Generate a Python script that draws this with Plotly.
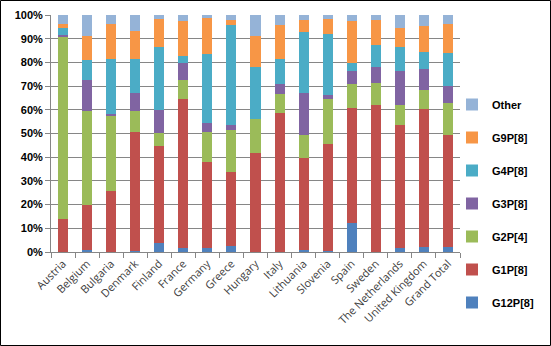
import plotly.graph_objects as go

categories = ["Austria", "Belgium", "Bulgaria", "Denmark", "Finland", "France", "Germany",
              "Greece", "Hungary", "Italy", "Lithuania", "Slovenia", "Spain", "Sweden",
              "The Netherlands", "United Kingdom", "Grand Total"]

G12P8 = [0, 1.0, 0, 0.3, 3.7, 1.8, 1.8, 2.5, 0, 0, 1.0, 0.4, 12.1, 0, 1.8, 2.3, 2.3]
G1P8 = [14.0, 19.0, 25.8, 50.4, 41.1, 62.8, 36.1, 31.3, 41.7, 58.7, 38.7, 45.2, 48.6, 62.1, 51.9, 58.1, 47.1]
G2P4 = [76.7, 39.3, 31.9, 8.6, 5.5, 7.8, 12.9, 17.5, 14.5, 8.1, 9.7, 19.0, 10.3, 9.4, 8.4, 7.8, 13.6]
G3P8 = [1.0, 13.1, 0.5, 7.9, 9.7, 7.3, 3.6, 2.2, 0, 4.2, 17.8, 1.7, 5.5, 6.5, 14.4, 9.1, 6.9]
G4P8 = [2.8, 8.7, 23.3, 14.3, 26.3, 2.8, 29.1, 42.4, 21.8, 10.5, 25.5, 25.8, 3.2, 9.2, 10.0, 7.3, 14.0]
G9P8 = [1.8, 9.9, 14.7, 11.9, 12.0, 15.1, 15.2, 2.1, 13.0, 14.4, 5.0, 6.4, 17.6, 10.8, 8.0, 10.9, 12.3]
Other = [3.7, 9.0, 3.8, 6.6, 1.7, 2.4, 1.3, 2.0, 9.0, 4.1, 2.3, 1.5, 2.7, 2.0, 5.5, 4.5, 3.8]

series_names = ["G12P[8]", "G1P[8]", "G2P[4]", "G3P[8]", "G4P[8]", "G9P[8]", "Other"]
series_values = [G12P8, G1P8, G2P4, G3P8, G4P8, G9P8, Other]
colors = ["#4F81BD", "#C0504D", "#9BBB59", "#8064A2", "#4BACC6", "#F79646", "#95B3D7"]

W, H = 551, 346
ml, mr, mt, mb = 51, 91, 15, 94

fig = go.Figure()
for i, (name, vals, col) in enumerate(zip(series_names, series_values, colors)):
    fig.add_trace(go.Bar(x=categories, y=vals, name=name, marker_color=col,
                         marker_line_width=0, legendgroup=name,
                         legendrank=100 - i))

pw = W - ml - mr
ph = H - mt - mb

fig.update_layout(
    width=W, height=H,
    margin=dict(l=ml, r=mr, t=mt, b=mb, autoexpand=False),
    barmode="stack", bargap=0.58,
    plot_bgcolor="white", paper_bgcolor="white",
    font=dict(family="Liberation Sans", size=11, color="#000000"),
    showlegend=True,
    legend=dict(x=(452 - ml) / pw, xanchor="left", y=(H - mb - 90) / ph, yanchor="top",
                traceorder="grouped", tracegroupgap=14,
                font=dict(family="Liberation Sans", size=11, weight="bold", color="#000000"),
                itemwidth=30, bgcolor="rgba(0,0,0,0)"),
    xaxis=dict(type="category", tickangle=-45, tickson="boundaries", ticks="outside",
               ticklen=5, tickcolor="#868686", showline=True, linecolor="#868686",
               linewidth=1, tickfont=dict(family="Open Sans", size=11, color="#404040"),
               showgrid=False),
    yaxis=dict(range=[0, 100], dtick=10, ticksuffix="%", ticks="outside", ticklen=5,
               tickcolor="#868686", showline=True, linecolor="#868686", linewidth=1,
               showgrid=True, gridcolor="#868686", gridwidth=1,
               tickfont=dict(family="Liberation Sans", size=11, weight="bold", color="#000000"),
               zeroline=False),
    shapes=[dict(type="rect", xref="paper", yref="paper",
                 x0=(-ml + 0.5) / pw, x1=(W - ml - 0.5) / pw,
                 y0=(-mb + 0.5) / ph, y1=(H - mb - 0.5) / ph,
                 line=dict(color="#000000", width=1), layer="above")],
)

fig.write_html("out.html")
